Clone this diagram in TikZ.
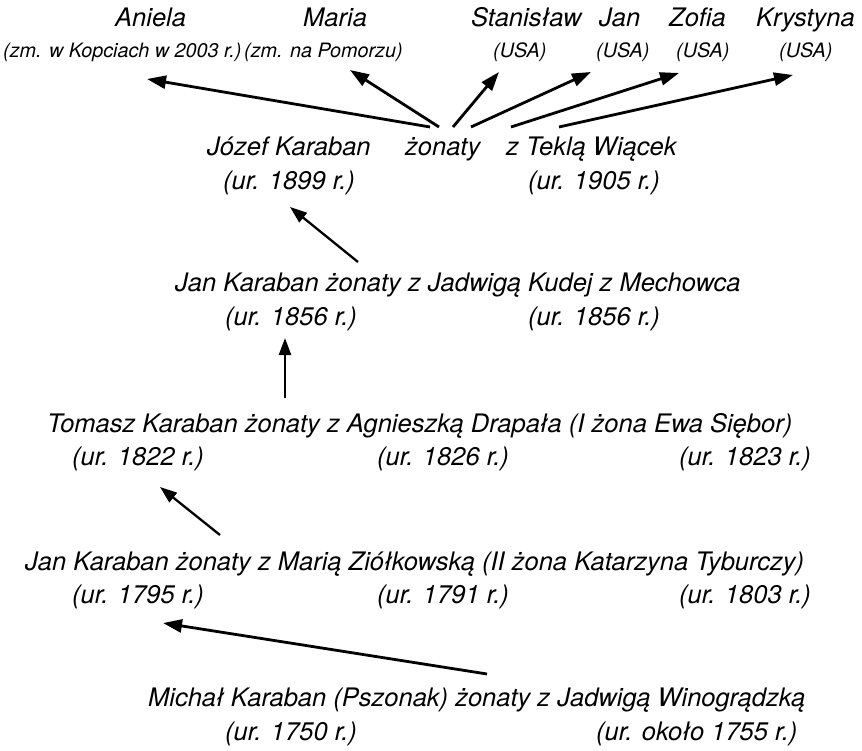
\documentclass[tikz,border=0pt]{standalone}
\usepackage{fontspec}
\setmainfont{TeX Gyre Heros}
\usetikzlibrary{arrows.meta}

\begin{document}
\begin{tikzpicture}[x=1pt,y=1pt,
  person/.style={anchor=base west,inner sep=0pt,font=\fontsize{25.5}{30}\selectfont\itshape},
  remark/.style={anchor=base west,inner sep=0pt,font=\fontsize{19.8}{24}\selectfont\itshape},
  arr/.style={line width=2.8pt,-{Triangle[length=19pt,width=13pt]}},
  arrthin/.style={line width=2.3pt,-{Triangle[length=17pt,width=12pt]}}]
\useasboundingbox (0,0) rectangle (862,-751);

% children
\node[person] (aniela) at (115,-27) {Aniela};
\node[remark] (aniela-n) at (3,-58) {(zm. w Kopciach w 2003 r.)};
\node[person] (maria) at (303,-27) {Maria};
\node[remark] (maria-n) at (244,-58) {(zm. na Pomorzu)};
\node[person] (stan) at (471,-27) {Stanisław};
\node[remark] (stan-n) at (493,-58) {(USA)};
\node[person] (jan) at (599,-27) {Jan};
\node[remark] (jan-n) at (596,-58) {(USA)};
\node[person] (zofia) at (669,-27) {Zofia};
\node[remark] (zofia-n) at (676,-58) {(USA)};
\node[person] (kryst) at (756,-27) {Krystyna};
\node[remark] (kryst-n) at (779,-58) {(USA)};

% Józef and Tekla
\node[person] (jozef) at (207,-156) {Józef Karaban};
\node[person] (zon) at (405,-156) {żonaty};
\node[person] (tekla) at (506,-156) {z Teklą Wiącek};
\node[person] (jozef-d) at (223,-190) {(ur. 1899 r.)};
\node[person] (tekla-d) at (528,-190) {(ur. 1905 r.)};

% Jan (1856)
\node[person] (jan56) at (175,-292) {Jan Karaban żonaty z Jadwigą Kudej z Mechowca};
\node[person] (jan56-d) at (225,-326) {(ur. 1856 r.)};
\node[person] (jadw-d) at (528,-326) {(ur. 1856 r.)};

% Tomasz
\node[person] (tomasz) at (47,-432) {Tomasz Karaban żonaty z Agnieszką Drapała (I żona Ewa Siębor)};
\node[person] (tomasz-d) at (72,-465) {(ur. 1822 r.)};
\node[person] (agn-d) at (377,-465) {(ur. 1826 r.)};
\node[person] (ewa-d) at (679,-465) {(ur. 1823 r.)};

% Jan (1795)
\node[person] (jan95) at (25,-570) {Jan Karaban żonaty z Marią Ziółkowską (II żona Katarzyna Tyburczy)};
\node[person] (jan95-d) at (72,-603) {(ur. 1795 r.)};
\node[person] (mar-d) at (377,-603) {(ur. 1791 r.)};
\node[person] (kat-d) at (679,-603) {(ur. 1803 r.)};

% Michał
\node[person] (michal) at (148,-706) {Michał Karaban (Pszonak) żonaty z Jadwigą Winogrądzką};
\node[person] (michal-d) at (225,-740) {(ur. 1750 r.)};
\node[person] (winog-d) at (596,-740) {(ur. około 1755 r.)};

% parents to children
\draw[arr] ([shift={(25,29)}]zon.base west) -- ([shift={(144,-21)}]aniela-n.base west);
\draw[arr] ([shift={(34,29)}]zon.base west) -- ([shift={(106,-12)}]maria-n.base west);
\draw[arr] ([shift={(48,29)}]zon.base west) -- ([shift={(6,-14)}]stan-n.base west);
\draw[arr] ([shift={(66,29)}]zon.base west) -- ([shift={(-5,-14)}]jan-n.base west);
\draw[arr] ([shift={(5,29)}]tekla.base west) -- ([shift={(3,-15)}]zofia-n.base west);
\draw[arr] ([shift={(53,29)}]tekla.base west) -- ([shift={(14,-17)}]kryst-n.base west);

% generations
\draw[arrthin] ([shift={(183,30)}]jan56.base west) -- ([shift={(67,-17)}]jozef-d.base west);
\draw[arrthin] ([shift={(238,34)}]tomasz.base west) -- ([shift={(60,-12)}]jan56-d.base west);
\draw[arrthin] ([shift={(195,35)}]jan95.base west) -- ([shift={(88,-22)}]tomasz-d.base west);
\draw[arr] ([shift={(339,32)}]michal.base west) -- ([shift={(91,-20)}]jan95-d.base west);
\end{tikzpicture}
\end{document}
